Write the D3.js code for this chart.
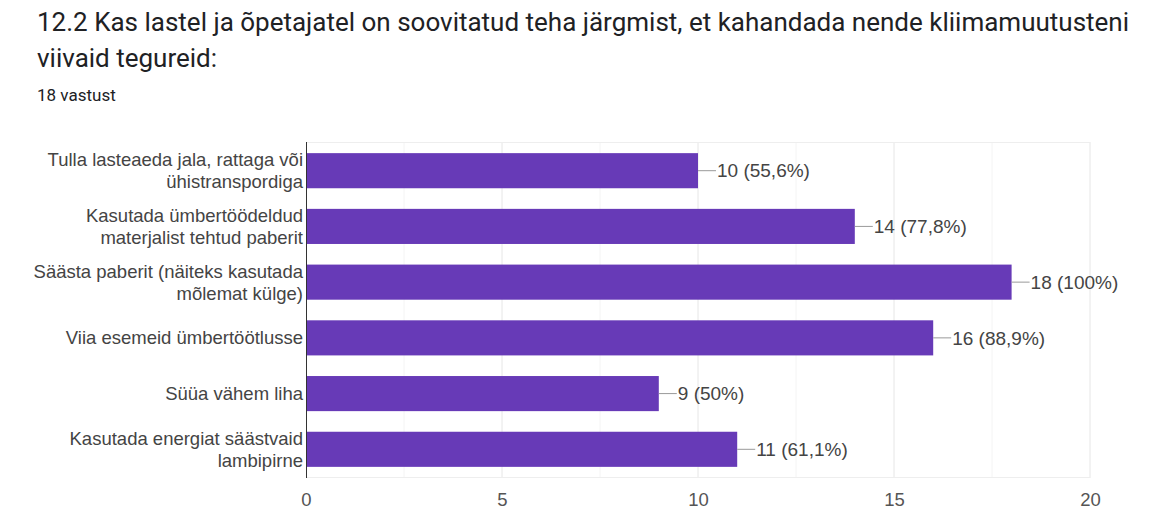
<!DOCTYPE html>
<html>
<head>
<meta charset="utf-8">
<script src="https://cdn.jsdelivr.net/npm/d3@7"></script>
<style>
  body { margin: 0; background: #fff; }
  #chart { width: 1168px; height: 510px; }
</style>
</head>
<body>
<div id="chart"></div>
<script>
// chart data
const titleLines = [
  "12.2 Kas lastel ja õpetajatel on soovitatud teha järgmist, et kahandada nende kliimamuutusteni",
  "viivaid tegureid:"
];
const subtitle = "18 vastust";
const categories = [
  ["Tulla lasteaeda jala, rattaga või", "ühistranspordiga"],
  ["Kasutada ümbertöödeldud", "materjalist tehtud paberit"],
  ["Säästa paberit (näiteks kasutada", "mõlemat külge)"],
  ["Viia esemeid ümbertöötlusse"],
  ["Süüa vähem liha"],
  ["Kasutada energiat säästvaid", "lambipirne"]
];
const counts = [10, 14, 18, 16, 9, 11];
const percents = ["55,6%", "77,8%", "100%", "88,9%", "50%", "61,1%"];
const xTicks = [0, 5, 10, 15, 20];
const minorTicks = [2.5, 7.5, 12.5, 17.5];

const svgWidth = 1168, svgHeight = 510;
let margin = { top: 142, right: 78, bottom: 32, left: 306 };
const width = svgWidth - margin.left - margin.right;
const height = svgHeight - margin.top - margin.bottom;
const chartFont = "Arial, 'Liberation Sans', sans-serif";

let svg = d3.select("#chart").append("svg")
  .attr("width", svgWidth)
  .attr("height", svgHeight);

// title
svg.append("g")
  .selectAll("text")
  .data(titleLines)
  .join("text")
  .attr("x", 37)
  .attr("y", (d, i) => 31 + i * 36)
  .attr("font-family", "Roboto, sans-serif")
  .attr("font-size", 26)
  .attr("fill", "#202124")
  .text(d => d);

svg.append("text")
  .attr("x", 37)
  .attr("y", 101)
  .attr("font-family", "Roboto, sans-serif")
  .attr("font-size", 17)
  .attr("fill", "#202124")
  .text(subtitle);

let x = d3.scaleLinear().domain([0, 20]).range([0, width]);
let y = d3.scaleBand()
  .domain(d3.range(categories.length))
  .range([0, height])
  .paddingInner(0.37)
  .paddingOuter(0.2);

let g = svg.append("g")
  .attr("transform", `translate(${margin.left},${margin.top})`);

// grid
g.append("g").selectAll("line")
  .data(minorTicks)
  .join("line")
  .attr("x1", d => x(d)).attr("x2", d => x(d))
  .attr("y1", 0).attr("y2", height)
  .attr("stroke", "#f4f4f4");

g.append("g").selectAll("line")
  .data(xTicks.slice(1))
  .join("line")
  .attr("x1", d => x(d)).attr("x2", d => x(d))
  .attr("y1", 0).attr("y2", height)
  .attr("stroke", "#e6e6e6");

g.append("line")
  .attr("x1", 0).attr("x2", width)
  .attr("y1", 0.5).attr("y2", 0.5)
  .attr("stroke", "#eeeeee");
g.append("line")
  .attr("x1", 0).attr("x2", width)
  .attr("y1", height - 0.5).attr("y2", height - 0.5)
  .attr("stroke", "#eeeeee");

// bars
g.append("g").selectAll("rect")
  .data(counts)
  .join("rect")
  .attr("x", 0)
  .attr("y", (d, i) => y(i))
  .attr("width", d => x(d))
  .attr("height", y.bandwidth())
  .attr("fill", "#673ab7");

// axis line
g.append("line")
  .attr("x1", 0.5).attr("x2", 0.5)
  .attr("y1", 0).attr("y2", height)
  .attr("stroke", "#333");

// x tick labels
let xAxis = g.append("g")
  .attr("transform", `translate(0,${height})`)
  .call(d3.axisBottom(x).tickValues(xTicks).tickSize(0).tickPadding(15));
xAxis.select(".domain").remove();
xAxis.selectAll("text")
  .attr("font-family", chartFont)
  .attr("font-size", 18.5)
  .attr("fill", "#555");

// category labels
let labels = g.append("g").selectAll("text")
  .data(categories)
  .join("text")
  .attr("text-anchor", "end")
  .attr("font-family", chartFont)
  .attr("font-size", 18.5)
  .attr("fill", "#444");
labels.each(function (d, i) {
  const cy = y(i) + y.bandwidth() / 2;
  const lh = 22;
  const top = cy - (d.length - 1) * lh / 2;
  d3.select(this).selectAll("tspan")
    .data(d)
    .join("tspan")
    .attr("x", -3)
    .attr("y", (t, j) => top + j * lh)
    .attr("dy", "0.35em")
    .text(t => t);
});

// value labels with connector
let vals = g.append("g").selectAll("g")
  .data(counts)
  .join("g")
  .attr("transform", (d, i) => `translate(${x(d)},${y(i) + y.bandwidth() / 2})`);
vals.append("line")
  .attr("x1", 0).attr("x2", 18)
  .attr("stroke", "#999");
vals.append("text")
  .attr("x", 19)
  .attr("dy", "0.35em")
  .attr("font-family", chartFont)
  .attr("font-size", 19)
  .attr("fill", "#444")
  .text((d, i) => `${d} (${percents[i]})`);
</script>
</body>
</html>
